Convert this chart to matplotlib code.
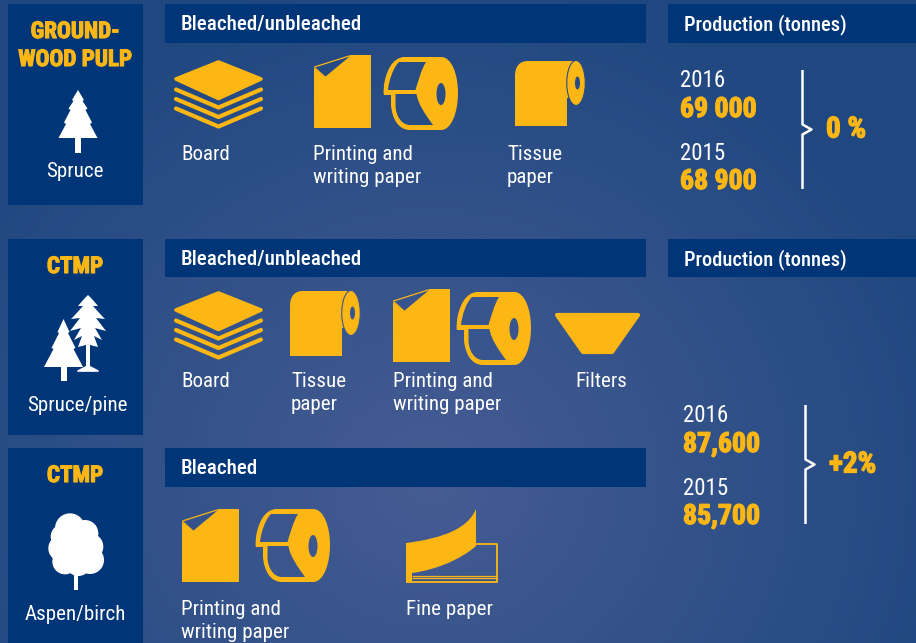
import matplotlib
matplotlib.use("Agg")
import matplotlib.pyplot as plt
import matplotlib.patheffects as pe
import numpy as np
from matplotlib.patches import Rectangle, Ellipse, Circle, Polygon, PathPatch
from matplotlib.path import Path

W, H = 916, 643
YELLOW = "#fdb714"
NAVY = "#003578"
WHITE = "#ffffff"
FONT = ["Roboto Condensed", "Liberation Sans", "DejaVu Sans"]
M, L, C, Z = Path.MOVETO, Path.LINETO, Path.CURVE4, Path.CLOSEPOLY

# text content
panel_titles = [["GROUND-", "WOOD PULP"], ["CTMP"], ["CTMP"]]
panel_species = ["Spruce", "Spruce/pine", "Aspen/birch"]
header_labels = ["Bleached/unbleached", "Bleached/unbleached", "Bleached"]
production_label = "Production (tonnes)"
years = ["2016", "2015"]
softwood_volumes = ["69 000", "68 900"]
softwood_change = "0 %"
ctmp_volumes = ["87,600", "85,700"]
ctmp_change = "+2%"

fig = plt.figure(figsize=(W / 100, H / 100), dpi=100)
ax = fig.add_axes([0, 0, 1, 1])
ax.set_xlim(0, W)
ax.set_ylim(H, 0)
ax.axis("off")

# background, dark at the top corners and lighter towards lower middle
yy, xx = np.mgrid[0:H, 0:W]
dist = np.sqrt(((xx - 430) / 560.0) ** 2 + ((yy - 480) / 520.0) ** 2)
dist = np.clip(dist, 0, 1)[..., None]
c_in = np.array([0x46, 0x5c, 0x93]) / 255
c_out = np.array([0x1f, 0x47, 0x80]) / 255
bg_img = c_in * (1 - dist) + c_out * dist
ax.imshow(bg_img, extent=(0, W, H, 0), aspect="auto", zorder=0)


def bg(x, y):
    return tuple(bg_img[int(y), int(x)])


def box(x0, y0, x1, y1):
    ax.add_patch(Rectangle((x0, y0), x1 - x0, y1 - y0, fc=NAVY, ec="none", zorder=1))


def label(x, y, s, size=15.1, color=WHITE, weight="normal", ha="left", thick=0):
    t = ax.text(x, y, s, fontsize=size, color=color, fontweight=weight, ha=ha, va="baseline",
                family=FONT, zorder=5)
    # the original lettering is heavier than the font's bold
    if thick:
        t.set_path_effects([pe.withStroke(linewidth=thick, foreground=color)])


def fill(points, color=YELLOW, lw=0, closed=True):
    ax.add_patch(Polygon(points, closed=closed, fc=color, ec=color, lw=lw, joinstyle="round", zorder=3))


def stroke(xs, ys, color=YELLOW, lw=2.0, cap="round"):
    ax.plot(xs, ys, color=color, lw=lw, solid_capstyle=cap, solid_joinstyle="round", zorder=3)


def curve(verts, codes, dx=0, dy=0, fc=YELLOW, ec="none", lw=0, z=3):
    pts = [(x + dx, y + dy) for x, y in verts]
    ax.add_patch(PathPatch(Path(pts, codes), fc=fc, ec=ec, lw=lw, zorder=z))


def board(dx, dy):
    fill([(176 + dx, 79 + dy), (218.5 + dx, 62 + dy), (261 + dx, 79 + dy), (218.5 + dx, 98.5 + dy)], lw=2.6)
    for off in (89.5, 99, 108.5):
        stroke([176 + dx, 218.5 + dx, 261 + dx], [off + dy, off + 18 + dy, off + dy], lw=3.0)


def sheet(dx, dy):
    fill([(314 + dx, 128 + dy), (314 + dx, 68 + dy), (325 + dx, 77 + dy), (349 + dx, 57 + dy),
          (350 + dx, 55 + dy), (371 + dx, 55 + dy), (371 + dx, 128 + dy)])
    stroke([314.5 + dx, 349 + dx], [67 + dy, 56 + dy], lw=0.9)
    stroke([315 + dx, 325 + dx], [68 + dy, 77 + dy], lw=0.9)


def roll(dx, dy):
    # whole silhouette in yellow, then the two open windows cut out in the background colour
    curve([(441, 57), (452, 57), (458, 75), (458, 93), (458, 111), (452, 130), (441, 130), (410, 130),
           (398, 130), (392, 118), (391, 105), (391, 95), (384, 95), (383.5, 93), (384, 85),
           (386, 72), (392, 57), (405, 57), (441, 57)],
          [M, C, C, C, C, C, C, L, C, C, C, L, L, L, L, C, C, C, Z], dx, dy)
    tone = bg(405 + dx, 76 + dy)
    curve([(399, 62), (426, 62), (421, 70), (418, 82), (415.5, 90), (388, 90), (389, 80), (393, 68),
           (399, 62), (399, 62)], [M, L, C, C, C, L, C, C, C, Z], dx, dy, fc=tone, z=4)
    curve([(395.5, 94), (416.5, 94), (418, 104), (425, 114), (433, 125), (410, 125), (401, 125),
           (395.5, 115), (395.5, 105), (395.5, 94)], [M, L, C, C, C, L, C, C, C, Z], dx, dy, fc=tone, z=4)
    ax.add_patch(Ellipse((441 + dx, 94 + dy), 9, 22, fc=bg(441 + dx, 94 + dy), ec="none", zorder=4))


def tissue(dx, dy):
    curve([(290, 356), (290, 306), (290, 296), (295, 291), (303, 291), (351, 291), (351, 356), (290, 356)],
          [M, L, C, C, C, L, L, Z], dx, dy)
    fill([(342 + dx, 328 + dy), (353 + dx, 328 + dy), (353 + dx, 357 + dy), (342 + dx, 357 + dy)],
         color=bg(350 + dx, 345 + dy))
    ax.add_patch(Ellipse((351 + dx, 313 + dy), 18.5, 45, fc=YELLOW, ec=bg(345 + dx, 350 + dy), lw=0.8, zorder=4))
    ax.add_patch(Ellipse((352.5 + dx, 313 + dy), 5, 13, fc=bg(352 + dx, 313 + dy), ec="none", zorder=4))


def tree(cx, profile, trunk_w, base):
    right = [(cx + a, b) for a, b in profile]
    left = [(cx - a, b) for a, b in profile][::-1]
    fill(right + left, color=WHITE)
    ax.add_patch(Rectangle((cx - trunk_w / 2, profile[-1][1] - 1), trunk_w, base - profile[-1][1] + 1,
                           fc=WHITE, ec="none", zorder=3))


# dark panels and headers
for y0, y1 in [(4, 205), (239, 435), (448, 650)]:
    box(8, y0, 143, y1)
for y0, y1 in [(4, 43), (239, 277), (448, 487)]:
    box(165, y0, 646, y1)
for y0, y1 in [(4, 43), (239, 277)]:
    box(668, y0, 916, y1)

# panel titles
label(75, 38, panel_titles[0][0], size=16.6, color=YELLOW, weight="bold", ha="center", thick=0.8)
label(75, 66, panel_titles[0][1], size=16.6, color=YELLOW, weight="bold", ha="center", thick=0.8)
label(75, 273, panel_titles[1][0], size=16.6, color=YELLOW, weight="bold", ha="center", thick=0.8)
label(75, 482, panel_titles[2][0], size=16.6, color=YELLOW, weight="bold", ha="center", thick=0.8)
label(75, 177, panel_species[0], ha="center")
label(77, 411, panel_species[1], ha="center")
label(75, 620, panel_species[2], ha="center")

# headers
label(181, 30, header_labels[0], weight="medium")
label(181, 265, header_labels[1], weight="medium")
label(181, 474, header_labels[2], weight="medium")
label(684, 30, production_label, size=14.8, weight="medium")
label(684, 265, production_label, size=14.8, weight="medium")

# trees
tree(78, [(0, 90), (6, 100), (4.5, 101), (9.5, 108.5), (7.5, 110), (14, 122.5), (12, 124), (19.5, 138)], 6, 153)
tree(63.5, [(0, 319), (6, 332), (4.5, 333), (12, 348), (10, 349), (19.5, 367)], 6, 381)
tree(88, [(0, 295), (4, 299), (10, 306), (5, 306), (14, 316), (17, 319), (8, 318), (18, 331), (7, 328),
          (14, 340), (6, 336), (10, 347), (2.3, 345)], 4.6, 370)
fill([(78, 371), (85.7, 367), (90.3, 367), (98, 371)], color=WHITE, lw=1.2)
for cx, cy, r in [(210, 265, 45), (255, 280, 40), (270, 320, 40), (270, 360, 42), (235, 370, 38),
                  (195, 365, 38), (185, 325, 40), (190, 290, 38), (225, 320, 70)]:
    ax.add_patch(Circle((cx / 3, 440 + cy / 3), r / 3, fc=WHITE, ec="none", zorder=3))
ax.add_patch(Rectangle((74, 570), 4, 20, fc=WHITE, ec="none", zorder=3))

# product icons, row 1
board(0, 0)
sheet(0, 0)
roll(0, 0)
tissue(225, -230)
label(181, 160, "Board")
label(313, 160, "Printing and")
label(313, 183, "writing paper")
label(507, 160, "Tissue")
label(507, 183, "paper")

# row 2
board(0, 231)
tissue(0, 0)
sheet(79, 234)
roll(73, 235)
fill([(557, 315), (638, 315), (612, 352), (583, 352)], lw=3)
label(181, 387, "Board")
label(291, 387, "Tissue")
label(291, 410, "paper")
label(393, 387, "Printing and")
label(393, 410, "writing paper")
label(575, 387, "Filters")

# row 3
sheet(-132, 454)
roll(-128, 452)
curve([(406, 543), (445, 538), (468, 528), (476, 509), (476, 546), (460, 560), (435, 570), (412, 573),
       (412, 582), (406, 582), (406, 543)], [M, C, C, C, L, C, C, C, L, L, Z])
stroke([476, 497, 497, 406], [543.5, 543.5, 581.5, 581.5], lw=1.3, cap="butt")
stroke([412, 497], [575.5, 575.5], lw=0.9, cap="butt")
stroke([412, 497], [578.3, 578.3], lw=0.9, cap="butt")
label(181, 615, "Printing and")
label(181, 638, "writing paper")
label(406, 615, "Fine paper")


def production(x, brace_x, y0, vols, change, change_x):
    label(x, y0, years[0], size=16.5)
    label(x, y0 + 30, vols[0], size=20, color=YELLOW, weight="black", thick=0.9)
    label(x, y0 + 73, years[1], size=16.5)
    label(x, y0 + 102, vols[1], size=20, color=YELLOW, weight="black", thick=0.9)
    top = y0 - 17
    mid = top + 59.5
    bot = top + 119
    stroke([brace_x, brace_x, brace_x + 9, brace_x, brace_x], [top, mid - 5, mid, mid + 5, bot],
           color=WHITE, lw=1.8, cap="butt")
    label(change_x, mid + 8, change, size=21, color=YELLOW, weight="black", thick=0.9)


production(680, 802.5, 87, softwood_volumes, softwood_change, 826)
production(683, 805.5, 422, ctmp_volumes, ctmp_change, 829)

fig.savefig("out.png", dpi=100)
